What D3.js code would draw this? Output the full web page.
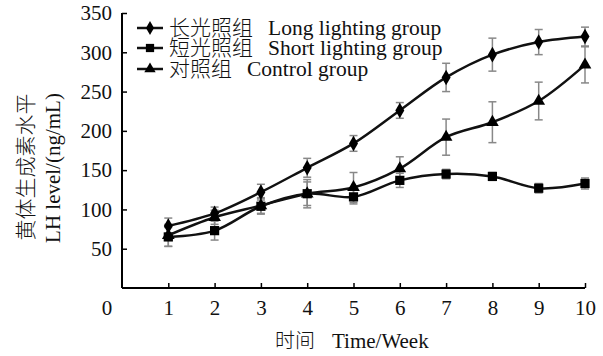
<!DOCTYPE html>
<html><head><meta charset="utf-8">
<script src="https://cdn.jsdelivr.net/npm/d3@7"></script>
<style>body{margin:0;background:#fff}svg{display:block}</style>
</head><body><svg id="c" width="603" height="356"></svg>
<script>
const weeks = [1,2,3,4,5,6,7,8,9,10];
const longVals  = [79, 95, 122, 153, 184, 226, 268, 297, 313, 320];
const longErr   = [10, 8, 10, 12, 10, 10, 18, 21, 16, 12];
const shortVals = [65, 73, 104, 120, 116, 137, 145, 142, 127, 133];
const shortErr  = [12, 12, 10, 15, 9, 9, 6, 5, 6, 7];
const ctrlVals  = [67, 90, 105, 120, 128, 152, 192, 211, 238, 284];
const ctrlErr   = [14, 9, 10, 18, 19, 15, 23, 26, 24, 23];
const yTicks = [50,100,150,200,250,300,350];
const xTicks = [1,2,3,4,5,6,7,8,9,10];
const seriesCN = ["长光照组","短光照组","对照组"];
const seriesEN = ["Long lighting group","Short lighting group","Control group"];

const font = "'Liberation Serif','Times New Roman',serif";
const cjk = "'Noto Sans CJK SC',sans-serif";
const svg = d3.select("#c");
const x = d3.scaleLinear().domain([0,10]).range([122,585]);
const y = d3.scaleLinear().domain([0,350]).range([288,13]);

// axes
const gx = svg.append("g").attr("transform","translate(0,288)")
  .call(d3.axisBottom(x).tickValues(xTicks).tickSizeInner(-5).tickSizeOuter(0).tickPadding(12));
const gy = svg.append("g").attr("transform","translate(122,0)")
  .call(d3.axisLeft(y).tickValues(yTicks).tickSizeInner(-5).tickSizeOuter(0).tickPadding(10));
[gx,gy].forEach(g=>{
  g.select(".domain").attr("stroke","#000").attr("stroke-width",2);
  g.selectAll(".tick line").attr("stroke","#000").attr("stroke-width",1.5);
  g.selectAll(".tick text").attr("font-family",font).attr("font-size",21).attr("fill","#111");
});
gy.select(".domain").attr("d","M0,"+y(350)+"V288");
gx.select(".domain").attr("d","M"+x(0)+",0H"+x(10));
svg.append("text").attr("x",107).attr("y",315).attr("text-anchor","middle")
  .attr("font-family",font).attr("font-size",21).attr("fill","#111").text("0");

// axis titles
svg.append("text").attr("transform","translate(33,167) rotate(-90)").attr("text-anchor","middle")
  .attr("font-family",cjk).attr("font-weight",300).attr("font-size",21).attr("fill","#111").text("黄体生成素水平");
svg.append("text").attr("transform","translate(60,168) rotate(-90)").attr("text-anchor","middle")
  .attr("font-family",font).attr("font-size",21).attr("fill","#111").text("LH level/(ng/mL)");
const xt = svg.append("text").attr("x",275).attr("y",348).attr("fill","#111");
xt.append("tspan").attr("font-family",cjk).attr("font-weight",300).attr("font-size",20).text("时间");
xt.append("tspan").attr("dx",17).attr("font-family",font).attr("font-size",21).text("Time/Week");

const series = [
  {vals:longVals, err:longErr, sym:d3.symbolDiamond, size:70},
  {vals:shortVals, err:shortErr, sym:d3.symbolSquare, size:85},
  {vals:ctrlVals, err:ctrlErr, sym:d3.symbolTriangle, size:70}
];
const line = d3.line().x(d=>x(d[0])).y(d=>y(d[1])).curve(d3.curveCatmullRom.alpha(0.5));

series.forEach(s=>{
  const pts = weeks.map((w,i)=>[w,s.vals[i],s.err[i]]);
  const eb = svg.append("g").attr("stroke","#888").attr("stroke-width",1.5);
  pts.forEach(p=>{
    eb.append("line").attr("x1",x(p[0])).attr("x2",x(p[0])).attr("y1",y(p[1]-p[2])).attr("y2",y(p[1]+p[2]));
    [p[1]-p[2],p[1]+p[2]].forEach(v=>eb.append("line").attr("x1",x(p[0])-4).attr("x2",x(p[0])+4).attr("y1",y(v)).attr("y2",y(v)));
  });
});
series.forEach(s=>{
  const pts = weeks.map((w,i)=>[w,s.vals[i]]);
  svg.append("path").attr("d",line(pts)).attr("fill","none").attr("stroke","#111").attr("stroke-width",2.5);
  svg.append("g").selectAll("path").data(pts).join("path")
    .attr("transform",d=>`translate(${x(d[0])},${y(d[1])})`)
    .attr("d",d3.symbol().type(s.sym).size(s.size)).attr("fill","#000");
});

// legend
const legY = [28,48,69];
series.forEach((s,i)=>{
  svg.append("line").attr("x1",137).attr("x2",163).attr("y1",legY[i]).attr("y2",legY[i]).attr("stroke","#111").attr("stroke-width",2.5);
  svg.append("path").attr("transform",`translate(150,${legY[i]})`).attr("d",d3.symbol().type(s.sym).size(s.size*0.8)).attr("fill","#000");
  const t = svg.append("text").attr("x",169).attr("y",legY[i]+7).attr("fill","#111");
  t.append("tspan").attr("font-family",cjk).attr("font-weight",300).attr("font-size",21).text(seriesCN[i]);
  t.append("tspan").attr("dx",15).attr("font-family",font).attr("font-size",21.5).text(seriesEN[i]);
});
</script></body></html>
